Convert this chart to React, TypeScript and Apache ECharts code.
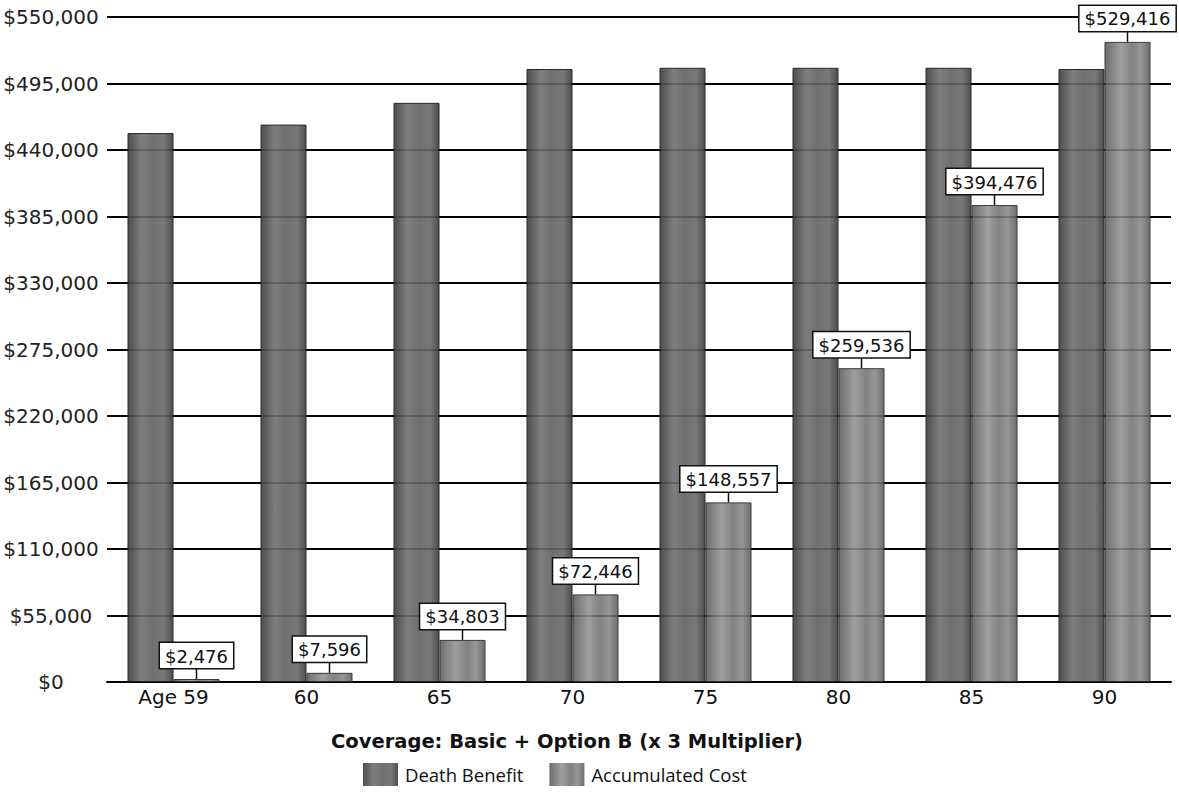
import React, { useEffect, useRef } from "react";
import * as echarts from "echarts";

const categories = ["Age 59", "60", "65", "70", "75", "80", "85", "90"];
const deathBenefit = [454000, 461000, 479000, 507000, 508000, 508000, 508000, 507000];
const accumulatedCost = [2476, 7596, 34803, 72446, 148557, 259536, 394476, 529416];
const yMin = 0;
const yMax = 550000;
const yStep = 55000;
const titleText = "Coverage: Basic + Option B (x 3 Multiplier)";
const seriesNames = ["Death Benefit", "Accumulated Cost"];

const fmt = (v: number) => "$" + Math.round(v).toLocaleString("en-US");

const BAR_W = 46;
const FONT = "DejaVu Sans";

export default function App() {
  const ref = useRef<HTMLDivElement>(null);
  useEffect(() => {
    if (!ref.current) return;
    const chart = echarts.init(ref.current, undefined, { renderer: "svg" });
    const dbColor = new echarts.graphic.LinearGradient(0, 0, 1, 0, [
      { offset: 0, color: "#4e4e4e" },
      { offset: 0.3, color: "#7e7e7e" },
      { offset: 0.55, color: "#707070" },
      { offset: 0.8, color: "#787878" },
      { offset: 1, color: "#4e4e4e" },
    ]);
    const acColor = new echarts.graphic.LinearGradient(0, 0, 1, 0, [
      { offset: 0, color: "#6e6e6e" },
      { offset: 0.35, color: "#a0a0a0" },
      { offset: 0.6, color: "#828282" },
      { offset: 0.8, color: "#969696" },
      { offset: 1, color: "#6e6e6e" },
    ]);
    const axisCommon = {
      type: "value" as const,
      min: yMin,
      max: yMax,
      interval: yStep,
    };
    chart.setOption({
      animation: false,
      backgroundColor: "#ffffff",
      grid: { left: 107, right: 8, top: 17, bottom: 118, containLabel: false },
      graphic: [
        {
          type: "text",
          left: 331,
          top: 731,
          style: {
            text: titleText,
            font: `bold 19.5px "${FONT}"`,
            fill: "#111",
          },
        },
      ],
      legend: {
        data: seriesNames,
        left: 358,
        top: 758,
        itemWidth: 35,
        itemHeight: 23,
        itemGap: 26,
        icon: "rect",
        itemStyle: { borderWidth: 0 },
        textStyle: {
          fontFamily: "Open Sans",
          fontSize: 18.5,
          color: "#111",
          padding: [0, 0, 0, 2],
        },
      },
      xAxis: {
        type: "category",
        data: categories,
        axisLine: { show: true, lineStyle: { color: "#000", width: 2 } },
        axisTick: { show: false },
        axisLabel: {
          fontFamily: FONT,
          fontSize: 20,
          color: "#111",
          margin: 5,
        },
      },
      yAxis: [
        {
          ...axisCommon,
          axisLine: { show: false },
          axisTick: { show: false },
          axisLabel: {
            formatter: (v: number) => fmt(v),
            fontFamily: FONT,
            fontSize: 20,
            color: "#222",
            align: "center",
            margin: 56,
          },
          splitLine: { show: true, lineStyle: { color: "#000", width: 2 } },
        },
        {
          ...axisCommon,
          position: "left",
          z: 5,
          axisLine: { show: false },
          axisTick: { show: false },
          axisLabel: { show: false },
          splitLine: { show: true, lineStyle: { color: "rgba(0,0,0,0.3)", width: 1.5 } },
        },
      ],
      series: [
        {
          name: seriesNames[0],
          type: "bar",
          data: deathBenefit,
          barWidth: BAR_W,
          barGap: "0%",
          z: 2,
          itemStyle: { color: dbColor, borderColor: "#2a2a2a", borderWidth: 1 },
        },
        {
          name: seriesNames[1],
          type: "bar",
          data: accumulatedCost,
          barWidth: BAR_W,
          barGap: "0%",
          z: 2,
          itemStyle: { color: acColor, borderColor: "#3a3a3a", borderWidth: 1 },
        },
        {
          name: "labels",
          type: "custom",
          z: 10,
          silent: true,
          data: accumulatedCost.map((v, i) => [i, v]),
          encode: { x: 0, y: 1 },
          renderItem: (params: any, api: any) => {
            const idx = api.value(0);
            const val = api.value(1);
            const pt = api.coord([idx, val]);
            const x = pt[0] + BAR_W / 2;
            const y = pt[1];
            const lead = 11;
            return {
              type: "group",
              children: [
                {
                  type: "line",
                  shape: { x1: x, y1: y, x2: x, y2: y - lead },
                  style: { stroke: "#111", lineWidth: 1.5 },
                },
                {
                  type: "text",
                  x: x,
                  y: y - lead,
                  style: {
                    text: fmt(val),
                    font: `18px "${FONT}"`,
                    fill: "#111",
                    align: "center",
                    verticalAlign: "bottom",
                    backgroundColor: "#ffffff",
                    borderColor: "#111",
                    borderWidth: 1.5,
                    padding: [4, 5, 3, 5],
                  },
                },
              ],
            };
          },
        },
      ],
    });
    return () => chart.dispose();
  }, []);
  return (
    <div
      ref={ref}
      style={{ position: "fixed", left: 0, top: 0, width: 1179, height: 800, background: "#fff" }}
    />
  );
}
